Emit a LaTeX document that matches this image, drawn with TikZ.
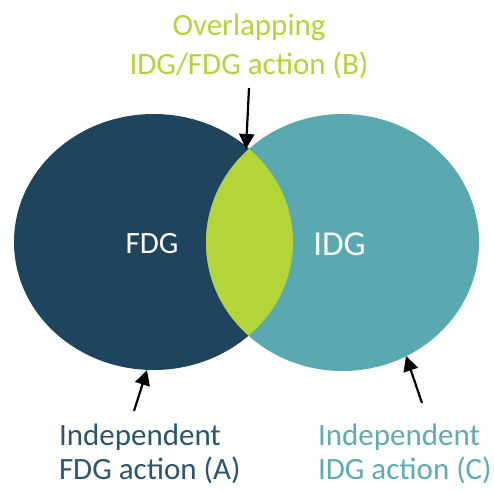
\documentclass[tikz,border=0pt]{standalone}
\usepackage{fontspec}
\setmainfont{Carlito}
\usetikzlibrary{arrows.meta}
\definecolor{navy}{HTML}{1E445E}
\definecolor{teal}{HTML}{5BA9B0}
\definecolor{lime}{HTML}{B3D53A}
\definecolor{navytext}{HTML}{2C5572}
\definecolor{tealtext}{HTML}{5EABB3}
\begin{document}
\begin{tikzpicture}[x=1pt,y=-1pt,
  lbl/.style={inner sep=0pt,outer sep=0pt},
  pointer/.style={line width=2.2pt,-{Triangle[width=15pt,length=15pt]}}]
\useasboundingbox (0,0) rectangle (494,491);
% circles
\fill[navy] (153.5,242) ellipse [x radius=139.5, y radius=128];
\fill[teal] (342.5,242.5) ellipse [x radius=136.5, y radius=128.5];
\begin{scope}
  \clip (153.5,242) ellipse [x radius=139.5, y radius=128];
  \fill[lime] (342.5,242.5) ellipse [x radius=136.5, y radius=128.5];
\end{scope}
% inner labels
\node[lbl,anchor=base,text=white,font=\fontsize{31}{37}\selectfont] (fdg) at (152,253) {FDG};
\node[lbl,anchor=base,text=white,font=\fontsize{35}{42}\selectfont] (idg) at (339.5,255) {IDG};
% top label
\node[lbl,anchor=base,text=lime,font=\fontsize{31}{38}\selectfont] (b1) at (249,35) {Overlapping};
\node[lbl,anchor=base,text=lime,font=\fontsize{31}{38}\selectfont] (b2) at (249,74) {IDG/FDG action (B)};
% bottom labels
\node[lbl,anchor=base west,text=navytext,font=\fontsize{31}{38}\selectfont] (a1) at (59,445) {Independent};
\node[lbl,anchor=base west,text=navytext,font=\fontsize{31}{38}\selectfont] (a2) at (59,479) {FDG action (A)};
\node[lbl,anchor=base west,text=tealtext,font=\fontsize{31}{38}\selectfont] (c1) at (318,445) {Independent};
\node[lbl,anchor=base west,text=tealtext,font=\fontsize{31}{38}\selectfont] (c2) at (318,479) {IDG action (C)};
% arrows
\coordinate (bs) at (249,88);
\coordinate (bt) at (246,149);
\coordinate (as) at (134,411);
\coordinate (at) at (147,370);
\coordinate (cs) at (422,403);
\coordinate (ct) at (406,356);
\draw[pointer] (bs) -- (bt);
\draw[pointer] (as) -- (at);
\draw[pointer] (cs) -- (ct);
\end{tikzpicture}
\end{document}
